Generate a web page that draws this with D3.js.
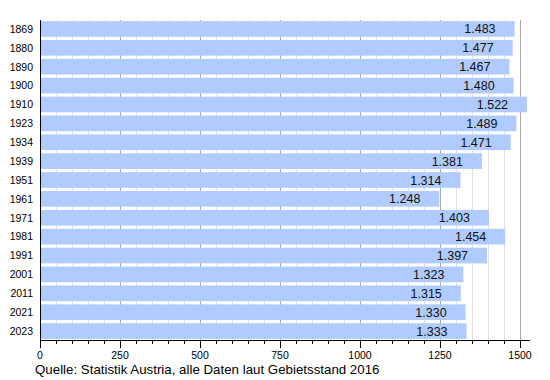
<!DOCTYPE html>
<html><head><meta charset="utf-8">
<script src="https://cdn.jsdelivr.net/npm/d3@7"></script>
<style>body{margin:0;background:#fff}svg{display:block;font-family:"Liberation Sans",Arial,sans-serif}</style>
</head><body>
<script>
const years = ["1869","1880","1890","1900","1910","1923","1934","1939","1951","1961","1971","1981","1991","2001","2011","2021","2023"];
const values = [1483,1477,1467,1480,1522,1489,1471,1381,1314,1248,1403,1454,1397,1323,1315,1330,1333];
const majorTicks = [0,250,500,750,1000,1250,1500];
const source = "Quelle: Statistik Austria, alle Daten laut Gebietsstand 2016";

(function(){
const W=550,H=380, mL=40, mR=520, mT=20, mB=340;
const svg=d3.select("body").append("svg").attr("width",W).attr("height",H);
const x=d3.scaleLinear().domain([0,1500]).range([mL,mR]);
const y=d3.scaleBand().domain(years).range([mT,mB]).paddingInner(0.17).paddingOuter(0.06);

const minor=d3.range(0,1501,50).filter(v=>v%250!==0);
svg.append("g").selectAll("line").data(minor).join("line")
 .attr("x1",d=>Math.round(x(d))+0.5).attr("x2",d=>Math.round(x(d))+0.5)
 .attr("y1",mT).attr("y2",mB).attr("stroke","#e0e0e0");
svg.append("g").selectAll("line").data(majorTicks.slice(1)).join("line")
 .attr("x1",d=>Math.round(x(d))+0.5).attr("x2",d=>Math.round(x(d))+0.5)
 .attr("y1",mT).attr("y2",mB).attr("stroke","#a8a8a8");

svg.append("g").selectAll("rect").data(values).join("rect")
 .attr("x",x(0)).attr("y",(d,i)=>y(years[i])).attr("width",d=>x(d)-x(0)).attr("height",y.bandwidth())
 .attr("fill","#b0cbff");

svg.append("g").selectAll("text").data(values).join("text")
 .attr("x",d=>x(d)-19).attr("y",(d,i)=>y(years[i])+y.bandwidth()/2).attr("dy","0.36em")
 .attr("text-anchor","end").attr("font-size",12.5).attr("fill","#111")
 .text(d=>d3.format(",")(d).replace(",","."));

svg.append("g").selectAll("text").data(years).join("text")
 .attr("x",33).attr("y",d=>y(d)+y.bandwidth()/2).attr("dy","0.36em")
 .attr("text-anchor","end").attr("font-size",10.5).attr("fill","#000").text(d=>d);

svg.append("line").attr("x1",mL+0.5).attr("x2",mL+0.5).attr("y1",mT).attr("y2",mB+8).attr("stroke","#000");
svg.append("line").attr("x1",mL).attr("x2",530).attr("y1",mB+0.5).attr("y2",mB+0.5).attr("stroke","#000");
svg.append("g").selectAll("line").data(majorTicks).join("line")
 .attr("x1",d=>Math.round(x(d))+0.5).attr("x2",d=>Math.round(x(d))+0.5)
 .attr("y1",mB).attr("y2",mB+8).attr("stroke","#000");
svg.append("g").selectAll("line").data(minor).join("line")
 .attr("x1",d=>Math.round(x(d))+0.5).attr("x2",d=>Math.round(x(d))+0.5)
 .attr("y1",mB).attr("y2",mB+4).attr("stroke","#000");
svg.append("g").selectAll("text").data(majorTicks).join("text")
 .attr("x",d=>x(d)).attr("y",355).attr("dy","0.36em").attr("text-anchor","middle")
 .attr("font-size",10.5).attr("fill","#000").text(d=>d);

svg.append("text").attr("x",35).attr("y",374).attr("font-size",13.3).attr("fill","#000").text(source);
})();
</script>
</body></html>
